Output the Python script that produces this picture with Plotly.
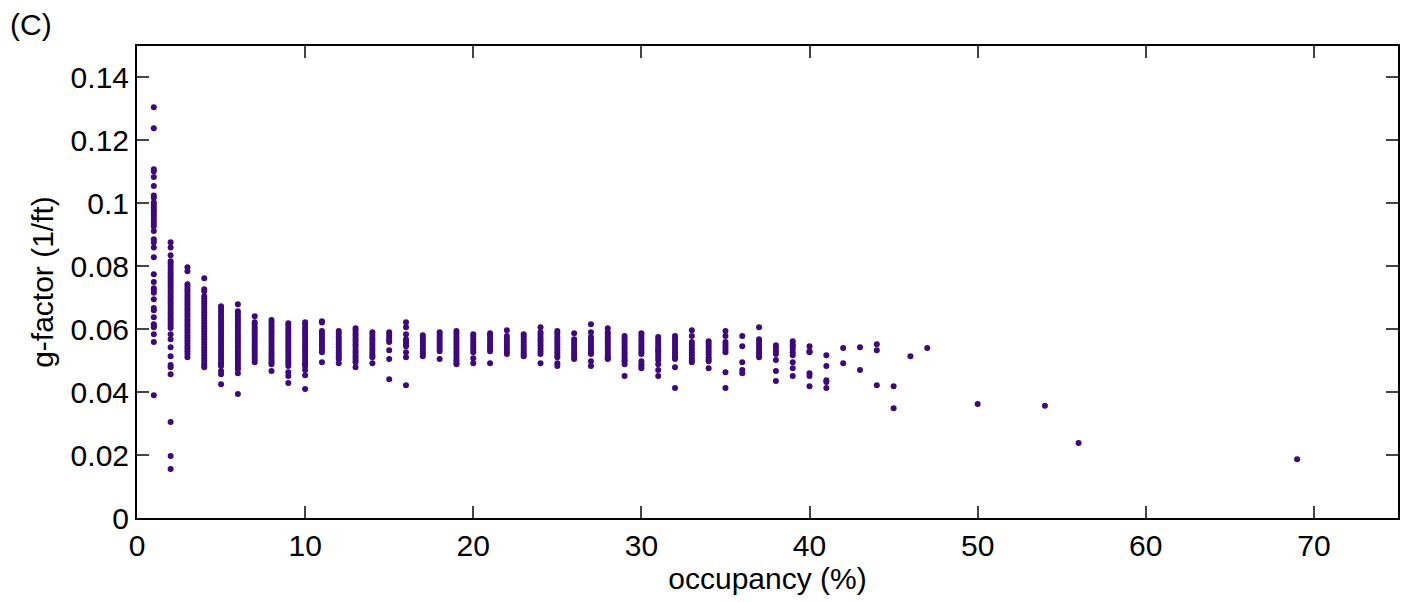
import plotly.graph_objects as go

# Occupancy levels (%) and the g-factor values (1/ft) measured at each level
occupancy_levels = [1, 2, 3, 4, 5, 6, 7, 8, 9, 10,
                    11, 12, 13, 14, 15, 16, 17, 18, 19, 20,
                    21, 22, 23, 24, 25, 26, 27, 28, 29, 30,
                    31, 32, 33, 34, 35, 36, 37, 38, 39, 40,
                    41, 42, 43, 44, 45, 46, 47, 50, 54, 56, 69]

g_occ_01 = [0.1305, 0.1239, 0.1108, 0.1102, 0.1084, 0.1055, 0.1025, 0.1018, 0.1003, 0.0995,
            0.0987, 0.0978, 0.0970, 0.0962, 0.0953, 0.0945, 0.0936, 0.0927, 0.0912, 0.0886,
            0.0876, 0.0860, 0.0829, 0.0775, 0.0750, 0.0730, 0.0722, 0.0716, 0.0695, 0.0667,
            0.0660, 0.0638, 0.0616, 0.0611, 0.0606, 0.0584, 0.0559, 0.0390]
g_occ_02 = [0.0876, 0.0860, 0.0835, 0.0816, 0.0808, 0.0799, 0.0790, 0.0781, 0.0773, 0.0765,
            0.0756, 0.0748, 0.0740, 0.0731, 0.0722, 0.0714, 0.0705, 0.0697, 0.0688, 0.0680,
            0.0671, 0.0663, 0.0654, 0.0646, 0.0637, 0.0629, 0.0620, 0.0612, 0.0604, 0.0584,
            0.0568, 0.0543, 0.0514, 0.0486, 0.0479, 0.0457, 0.0305, 0.0197, 0.0156]
g_occ_03 = [0.0797, 0.0784, 0.0743, 0.0735, 0.0726, 0.0718, 0.0709, 0.0700, 0.0692, 0.0683,
            0.0675, 0.0666, 0.0658, 0.0649, 0.0641, 0.0632, 0.0624, 0.0615, 0.0607, 0.0598,
            0.0590, 0.0581, 0.0573, 0.0564, 0.0556, 0.0547, 0.0539, 0.0530, 0.0521, 0.0511]
g_occ_04 = [0.0762, 0.0727, 0.0721, 0.0705, 0.0697, 0.0688, 0.0680, 0.0671, 0.0662, 0.0654,
            0.0645, 0.0637, 0.0628, 0.0620, 0.0611, 0.0603, 0.0594, 0.0586, 0.0577, 0.0569,
            0.0560, 0.0552, 0.0543, 0.0535, 0.0526, 0.0518, 0.0509, 0.0501, 0.0492, 0.0485,
            0.0479]
g_occ_05 = [0.0673, 0.0664, 0.0656, 0.0647, 0.0639, 0.0630, 0.0622, 0.0613, 0.0605, 0.0596,
            0.0588, 0.0579, 0.0571, 0.0562, 0.0554, 0.0545, 0.0537, 0.0528, 0.0520, 0.0511,
            0.0503, 0.0494, 0.0488, 0.0483, 0.0467, 0.0457, 0.0425]
g_occ_06 = [0.0679, 0.0657, 0.0649, 0.0640, 0.0632, 0.0623, 0.0615, 0.0606, 0.0598, 0.0589,
            0.0581, 0.0572, 0.0564, 0.0555, 0.0547, 0.0538, 0.0530, 0.0521, 0.0513, 0.0504,
            0.0496, 0.0487, 0.0480, 0.0473, 0.0460, 0.0394]
g_occ_07 = [0.0641, 0.0622, 0.0614, 0.0605, 0.0597, 0.0588, 0.0580, 0.0571, 0.0563, 0.0554,
            0.0546, 0.0537, 0.0529, 0.0520, 0.0512, 0.0503, 0.0495]
g_occ_08 = [0.0629, 0.0621, 0.0612, 0.0604, 0.0595, 0.0587, 0.0578, 0.0570, 0.0561, 0.0553,
            0.0544, 0.0536, 0.0527, 0.0519, 0.0510, 0.0502, 0.0495, 0.0489, 0.0467]
g_occ_09 = [0.0619, 0.0611, 0.0602, 0.0594, 0.0585, 0.0577, 0.0568, 0.0560, 0.0551, 0.0543,
            0.0534, 0.0526, 0.0517, 0.0509, 0.0500, 0.0492, 0.0483, 0.0463, 0.0451, 0.0429]
g_occ_10 = [0.0622, 0.0614, 0.0605, 0.0597, 0.0588, 0.0580, 0.0571, 0.0563, 0.0554, 0.0546,
            0.0537, 0.0529, 0.0520, 0.0512, 0.0503, 0.0495, 0.0489, 0.0483, 0.0470, 0.0454,
            0.0410]
g_occ_11 = [0.0625, 0.0621, 0.0594, 0.0586, 0.0578, 0.0569, 0.0561, 0.0552, 0.0544, 0.0535,
            0.0527, 0.0495]
g_occ_12 = [0.0594, 0.0586, 0.0577, 0.0569, 0.0560, 0.0552, 0.0543, 0.0535, 0.0526, 0.0518,
            0.0510, 0.0505, 0.0492]
g_occ_13 = [0.0603, 0.0595, 0.0586, 0.0578, 0.0569, 0.0561, 0.0552, 0.0544, 0.0535, 0.0527,
            0.0518, 0.0510, 0.0502, 0.0495, 0.0479]
g_occ_14 = [0.0590, 0.0582, 0.0573, 0.0565, 0.0556, 0.0548, 0.0539, 0.0531, 0.0522, 0.0515,
            0.0511, 0.0492]
g_occ_15 = [0.0590, 0.0582, 0.0574, 0.0566, 0.0559, 0.0533, 0.0505, 0.0441]
g_occ_16 = [0.0622, 0.0606, 0.0584, 0.0568, 0.0561, 0.0553, 0.0546, 0.0527, 0.0511, 0.0422]
g_occ_17 = [0.0581, 0.0573, 0.0564, 0.0556, 0.0547, 0.0539, 0.0530, 0.0522, 0.0514]
g_occ_18 = [0.0590, 0.0582, 0.0573, 0.0565, 0.0556, 0.0548, 0.0539, 0.0530, 0.0505]
g_occ_19 = [0.0594, 0.0586, 0.0577, 0.0569, 0.0560, 0.0552, 0.0543, 0.0535, 0.0526, 0.0518,
            0.0509, 0.0501, 0.0494, 0.0489]
g_occ_20 = [0.0584, 0.0576, 0.0567, 0.0559, 0.0550, 0.0542, 0.0534, 0.0527, 0.0508, 0.0492]
g_occ_21 = [0.0587, 0.0579, 0.0570, 0.0562, 0.0553, 0.0545, 0.0537, 0.0530, 0.0492]
g_occ_22 = [0.0597, 0.0578, 0.0570, 0.0561, 0.0553, 0.0544, 0.0536, 0.0528, 0.0521]
g_occ_23 = [0.0584, 0.0576, 0.0567, 0.0559, 0.0550, 0.0542, 0.0533, 0.0525, 0.0519, 0.0514]
g_occ_24 = [0.0606, 0.0590, 0.0582, 0.0573, 0.0565, 0.0556, 0.0548, 0.0539, 0.0530, 0.0521,
            0.0492]
g_occ_25 = [0.0594, 0.0586, 0.0577, 0.0569, 0.0560, 0.0552, 0.0543, 0.0535, 0.0526, 0.0518,
            0.0511, 0.0492, 0.0483]
g_occ_26 = [0.0587, 0.0568, 0.0560, 0.0551, 0.0543, 0.0534, 0.0526, 0.0517, 0.0510, 0.0505]
g_occ_27 = [0.0616, 0.0590, 0.0575, 0.0567, 0.0558, 0.0550, 0.0541, 0.0533, 0.0525, 0.0521,
            0.0498, 0.0483]
g_occ_28 = [0.0603, 0.0590, 0.0582, 0.0573, 0.0565, 0.0556, 0.0548, 0.0539, 0.0531, 0.0522,
            0.0514, 0.0508, 0.0505]
g_occ_29 = [0.0578, 0.0570, 0.0561, 0.0553, 0.0544, 0.0536, 0.0527, 0.0519, 0.0510, 0.0503,
            0.0498, 0.0489, 0.0451]
g_occ_30 = [0.0587, 0.0579, 0.0570, 0.0562, 0.0553, 0.0545, 0.0536, 0.0528, 0.0521, 0.0498,
            0.0489, 0.0483, 0.0476]
g_occ_31 = [0.0575, 0.0567, 0.0558, 0.0550, 0.0541, 0.0535, 0.0530, 0.0521, 0.0511, 0.0502,
            0.0489, 0.0470, 0.0451]
g_occ_32 = [0.0578, 0.0570, 0.0561, 0.0553, 0.0544, 0.0536, 0.0527, 0.0519, 0.0511, 0.0505,
            0.0479, 0.0413]
g_occ_33 = [0.0597, 0.0578, 0.0559, 0.0551, 0.0542, 0.0534, 0.0525, 0.0517, 0.0508, 0.0501,
            0.0495]
g_occ_34 = [0.0562, 0.0554, 0.0545, 0.0537, 0.0528, 0.0520, 0.0511, 0.0504, 0.0498, 0.0476]
g_occ_35 = [0.0594, 0.0578, 0.0559, 0.0551, 0.0543, 0.0535, 0.0527, 0.0463, 0.0413]
g_occ_36 = [0.0578, 0.0546, 0.0495, 0.0470, 0.0460]
g_occ_37 = [0.0606, 0.0568, 0.0560, 0.0551, 0.0543, 0.0534, 0.0526, 0.0518, 0.0511]
g_occ_38 = [0.0549, 0.0540, 0.0530, 0.0521, 0.0502, 0.0467, 0.0435]
g_occ_39 = [0.0562, 0.0552, 0.0546, 0.0537, 0.0527, 0.0517, 0.0495, 0.0476, 0.0451]
g_occ_40 = [0.0546, 0.0530, 0.0527, 0.0460, 0.0451, 0.0419]
g_occ_41 = [0.0517, 0.0483, 0.0438, 0.0432, 0.0413]
g_occ_42 = [0.0540, 0.0492]
g_occ_43 = [0.0543, 0.0470]
g_occ_44 = [0.0552, 0.0533, 0.0422]
g_occ_45 = [0.0419, 0.0349]
g_occ_46 = [0.0514]
g_occ_47 = [0.0540]
g_occ_50 = [0.0362]
g_occ_54 = [0.0357]
g_occ_56 = [0.0238]
g_occ_69 = [0.0187]

g_columns = [g_occ_01, g_occ_02, g_occ_03, g_occ_04, g_occ_05, g_occ_06, g_occ_07, g_occ_08,
             g_occ_09, g_occ_10, g_occ_11, g_occ_12, g_occ_13, g_occ_14, g_occ_15, g_occ_16,
             g_occ_17, g_occ_18, g_occ_19, g_occ_20, g_occ_21, g_occ_22, g_occ_23, g_occ_24,
             g_occ_25, g_occ_26, g_occ_27, g_occ_28, g_occ_29, g_occ_30, g_occ_31, g_occ_32,
             g_occ_33, g_occ_34, g_occ_35, g_occ_36, g_occ_37, g_occ_38, g_occ_39, g_occ_40,
             g_occ_41, g_occ_42, g_occ_43, g_occ_44, g_occ_45, g_occ_46, g_occ_47, g_occ_50,
             g_occ_54, g_occ_56, g_occ_69]

xs, ys = [], []
for occ, vals in zip(occupancy_levels, g_columns):
    xs.extend([occ] * len(vals))
    ys.extend(vals)

FONT = "Liberation Sans, Arial, Helvetica, sans-serif"
DOT = "#3d0a78"

fig = go.Figure()
fig.add_trace(go.Scatter(
    x=xs, y=ys, mode="markers",
    marker=dict(size=6, color=DOT, line=dict(width=0)),
    showlegend=False, cliponaxis=False,
))

axis_common = dict(
    showline=True, linecolor="black", linewidth=2, mirror="ticks",
    ticks="inside", ticklen=12, tickwidth=1.5, tickcolor="#444444",
    showgrid=False, zeroline=False,
    tickfont=dict(family=FONT, size=30, color="black"),
)

fig.update_layout(
    width=1407, height=602,
    margin=dict(l=137, r=7, t=46, b=84),
    paper_bgcolor="white", plot_bgcolor="white",
    font=dict(family=FONT, size=30, color="black"),
    xaxis=dict(
        range=[0, 75], tick0=0, dtick=10,
        title=dict(text="occupancy (%)", font=dict(family=FONT, size=30), standoff=4),
        **axis_common,
    ),
    yaxis=dict(
        range=[0, 0.15], tick0=0, dtick=0.02,
        title=dict(text="g-factor (1/ft)", font=dict(family=FONT, size=30), standoff=8),
        **axis_common,
    ),
    annotations=[dict(
        text="(C)", xref="paper", yref="paper",
        x=-0.1025, y=1.085, xanchor="left", yanchor="top",
        showarrow=False, font=dict(family=FONT, size=30, color="black"),
    )],
)

fig.write_html("out.html")
